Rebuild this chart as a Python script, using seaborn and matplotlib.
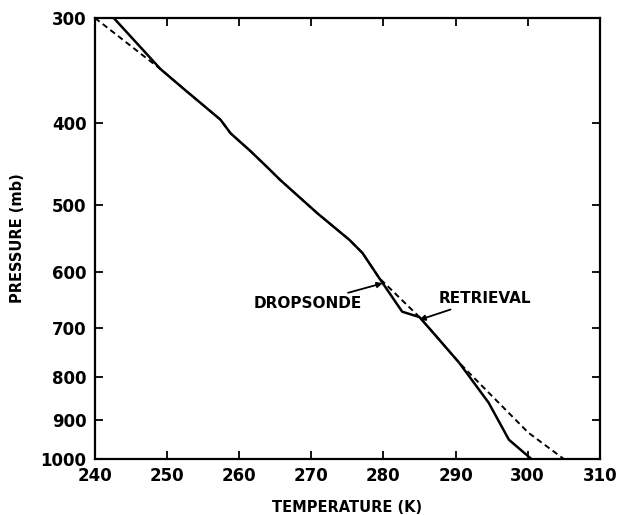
import numpy as np
import pandas as pd
import matplotlib
matplotlib.use("Agg")
import matplotlib.pyplot as plt
import seaborn as sns

# Dropsonde profile (solid) - temperature (K) vs pressure (mb)
sonde_temp = [242.6, 249.1, 252.3, 257.4, 258.8, 261.5, 263.9, 265.7, 270.8, 275.3,
              277.1, 279.4, 282.6, 285.0, 286.8, 290.5, 294.6, 297.4, 300.5]
sonde_pres = [300, 345, 364, 396, 411, 431, 451, 467, 511, 550,
              570, 610, 669, 679, 707, 769, 858, 949, 1000]

# Retrieval profile (dashed)
retr_temp = [240.0, 249.1, 252.3, 257.4, 258.8, 261.5, 263.9, 265.7, 270.8, 275.3,
             277.1, 279.4, 285.0, 286.8, 290.5, 294.2, 300.1, 305.0]
retr_pres = [300, 345, 364, 396, 411, 431, 451, 467, 511, 550,
             570, 610, 679, 707, 769, 828, 931, 1000]

pres_ticks = [300, 400, 500, 600, 700, 800, 900, 1000]
temp_ticks = [240, 250, 260, 270, 280, 290, 300, 310]

sonde = pd.DataFrame({"T": sonde_temp, "p": sonde_pres})
retr = pd.DataFrame({"T": retr_temp, "p": retr_pres})

sns.set_style("ticks")
plt.rcParams["font.family"] = ["DejaVu Sans"]
plt.rcParams["text.color"] = "black"
plt.rcParams["axes.labelcolor"] = "black"
plt.rcParams["axes.edgecolor"] = "black"
plt.rcParams["xtick.color"] = "black"
plt.rcParams["ytick.color"] = "black"

fig = plt.figure(figsize=(6.17, 5.15), dpi=100)
ax = fig.add_axes([0.154, 0.109, 0.818, 0.856])

sns.lineplot(data=sonde, x="T", y="p", sort=False, color="black", lw=1.8, ax=ax)
sns.lineplot(data=retr, x="T", y="p", sort=False, color="black", lw=1.4,
             linestyle=(0, (3, 2)), ax=ax)

ax.set_yscale("log")
ax.set_ylim(1000, 300)
ax.set_xlim(240, 310)
ax.yaxis.set_major_locator(matplotlib.ticker.FixedLocator(pres_ticks))
ax.yaxis.set_minor_locator(matplotlib.ticker.NullLocator())
ax.set_yticklabels([str(v) for v in pres_ticks])
ax.set_xticks(temp_ticks)

ax.tick_params(direction="in", length=6, width=1.3, top=True, right=True,
               labelsize=12, pad=6)
for lab in ax.get_xticklabels() + ax.get_yticklabels():
    lab.set_fontweight("bold")
for sp in ax.spines.values():
    sp.set_linewidth(1.6)

ax.set_xlabel("TEMPERATURE (K)", fontsize=10.5, fontweight="bold", labelpad=11)
ax.set_ylabel("PRESSURE (mb)", fontsize=10.5, fontweight="bold", labelpad=11)

ax.annotate("DROPSONDE", xy=(279.9, 619), xytext=(277.0, 655),
            ha="right", va="center", fontsize=11, fontweight="bold",
            arrowprops=dict(arrowstyle="-|>", color="black", lw=1.3,
                            shrinkA=1, shrinkB=0, mutation_scale=8))
ax.annotate("RETRIEVAL", xy=(285.0, 684), xytext=(287.6, 645),
            ha="left", va="center", fontsize=11, fontweight="bold",
            arrowprops=dict(arrowstyle="-|>", color="black", lw=1.3,
                            shrinkA=1, shrinkB=0, mutation_scale=8))

fig.savefig("out.png", dpi=100)
